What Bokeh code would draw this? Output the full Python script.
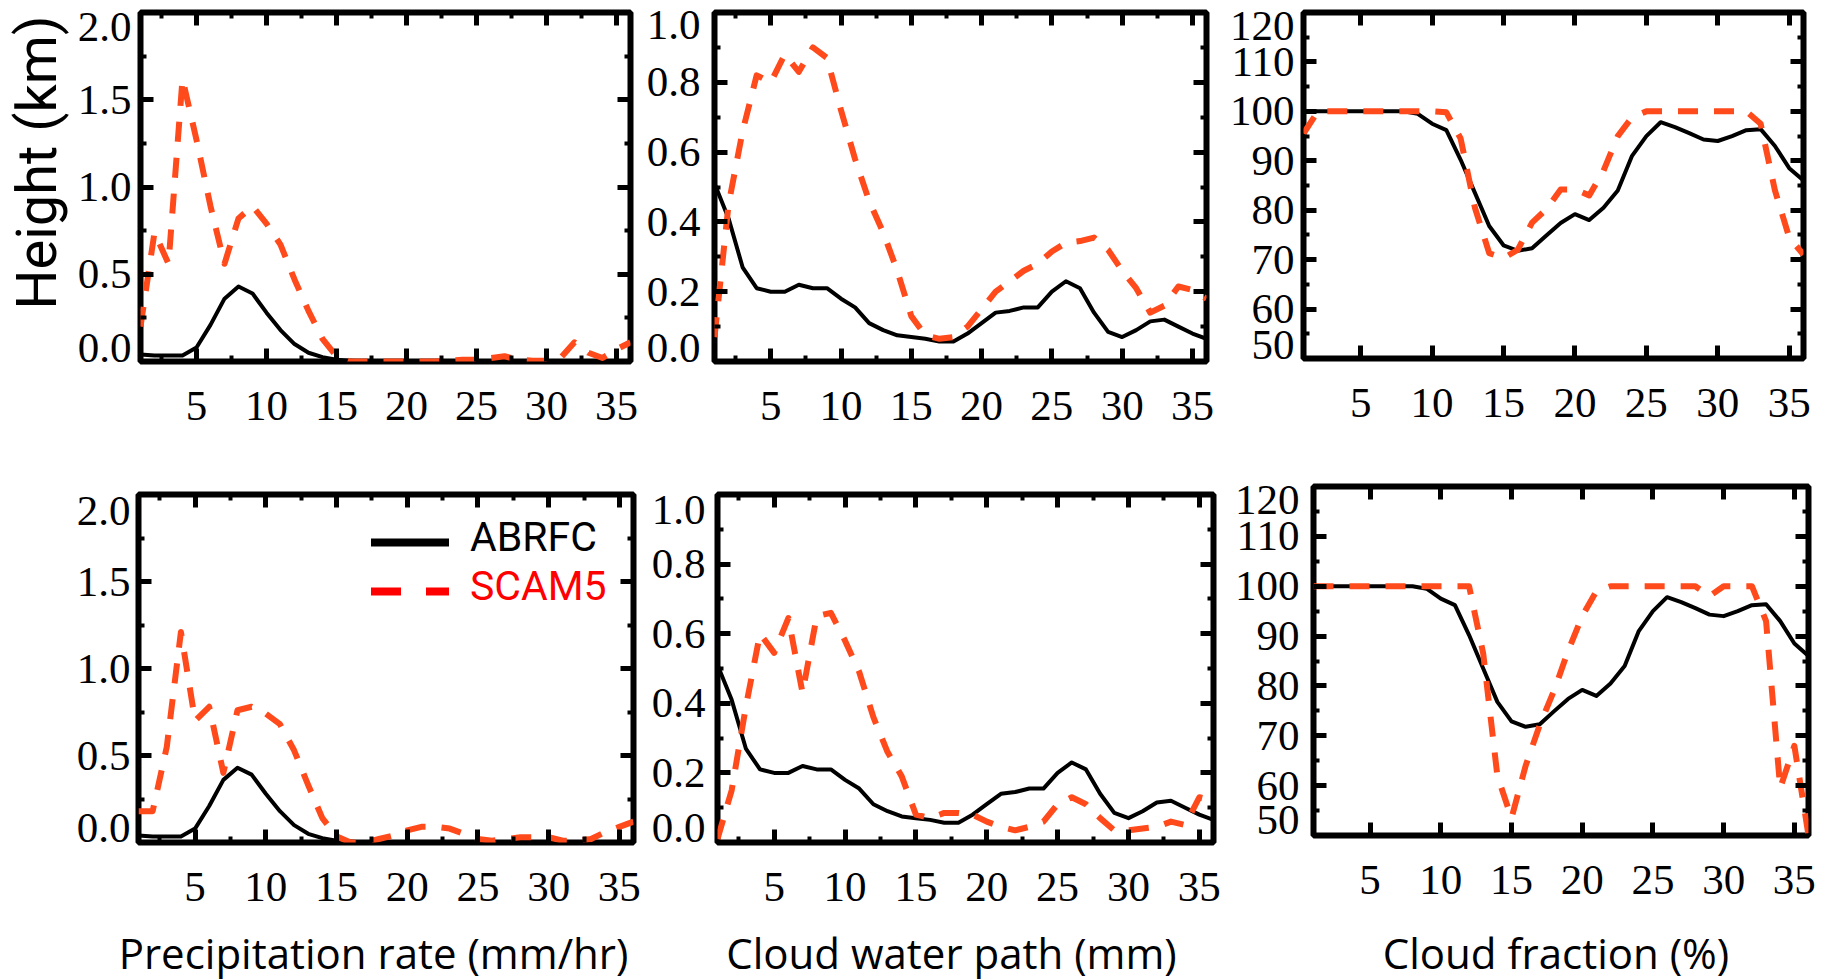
from bokeh.plotting import figure
from bokeh.layouts import row, column
from bokeh.models import (Range1d, LinearAxis, FixedTicker, PrintfTickFormatter,
                          CustomJSTickFormatter, Label, Title, Arrow, ColumnDataSource)
from bokeh.embed import file_html
from bokeh.resources import INLINE

# ---------------- data ----------------
hours = [1, 2, 3, 4, 5, 6, 7, 8, 9, 10, 11, 12, 13, 14, 15, 16, 17, 18,
         19, 20, 21, 22, 23, 24, 25, 26, 27, 28, 29, 30, 31, 32, 33, 34, 35, 36]

abrfc_precip = [0.04, 0.035, 0.035, 0.035, 0.08, 0.21, 0.36, 0.43, 0.39, 0.28, 0.18, 0.10,
                0.05, 0.025, 0.01, 0.005, 0.0, 0.0, 0.0, 0.0, 0.0, 0.0, 0.0, 0.0,
                0.0, 0.0, 0.0, 0.0, 0.0, 0.0, 0.0, 0.0, 0.0, 0.0, 0.0, 0.0]
scam5_precip_top = [0.20, 0.74, 0.56, 1.62, 1.27, 0.89, 0.56, 0.82, 0.89, 0.79, 0.67, 0.47,
                    0.29, 0.13, 0.03, 0.0, 0.0, 0.0, 0.0, 0.0, 0.0, 0.0, 0.005, 0.01,
                    0.01, 0.02, 0.03, 0.01, 0.005, 0.005, 0.02, 0.11, 0.05, 0.02, 0.07, 0.11]
scam5_precip_bottom = [0.18, 0.18, 0.55, 1.21, 0.70, 0.78, 0.40, 0.76, 0.78, 0.74, 0.68, 0.53,
                       0.33, 0.14, 0.035, 0.0, 0.0, 0.02, 0.04, 0.07, 0.09, 0.09, 0.08, 0.05,
                       0.02, 0.01, 0.02, 0.03, 0.03, 0.03, 0.01, 0.01, 0.02, 0.06, 0.09, 0.12]

abrfc_cwp = [0.51, 0.41, 0.27, 0.21, 0.20, 0.20, 0.22, 0.21, 0.21, 0.18, 0.155, 0.11,
             0.09, 0.075, 0.07, 0.065, 0.057, 0.057, 0.08, 0.11, 0.14, 0.145, 0.155, 0.155,
             0.20, 0.23, 0.21, 0.14, 0.085, 0.07, 0.09, 0.115, 0.12, 0.10, 0.08, 0.065]
scam5_cwp_top = [0.07, 0.45, 0.66, 0.82, 0.80, 0.88, 0.83, 0.90, 0.87, 0.72, 0.58, 0.46,
                 0.37, 0.26, 0.13, 0.075, 0.065, 0.07, 0.10, 0.15, 0.20, 0.23, 0.26, 0.28,
                 0.315, 0.34, 0.345, 0.355, 0.32, 0.26, 0.21, 0.14, 0.16, 0.215, 0.205, 0.18]
scam5_cwp_bottom = [0.01, 0.15, 0.39, 0.60, 0.545, 0.645, 0.43, 0.65, 0.66, 0.58, 0.49, 0.36,
                    0.26, 0.19, 0.08, 0.07, 0.085, 0.085, 0.08, 0.06, 0.045, 0.035, 0.045, 0.06,
                    0.11, 0.13, 0.11, 0.07, 0.035, 0.035, 0.04, 0.045, 0.06, 0.05, 0.13, 0.12]

abrfc_cf = [100, 100, 100, 100, 100, 100, 100, 100, 99.5, 97.5, 96.2, 90.2,
            83.5, 76.8, 72.9, 71.8, 72.3, 74.9, 77.4, 79.2, 78.0, 80.5, 84.0, 91.0,
            95.0, 97.8, 96.8, 95.6, 94.3, 94.0, 95.0, 96.2, 96.4, 93.0, 88.5, 86.0]
scam5_cf_top = [95.5, 100, 100, 100, 100, 100, 100, 100, 100, 100, 99.8, 94.5,
                80.5, 71.3, 70.3, 72.0, 77.5, 80.2, 84.2, 84.2, 83.0, 88.0, 95.0, 98.8,
                100, 100, 100, 100, 100, 100, 100, 100, 97.5, 84.0, 74.5, 71.0]
scam5_cf_bottom = [100, 100, 100, 100, 100, 100, 100, 100, 100, 100, 100, 100,
                   86.5, 62.0, 53.5, 64.0, 72.2, 79.0, 87.0, 94.0, 99.0, 100, 100, 100,
                   100, 100, 100, 100, 98.0, 100, 100, 100, 93.0, 59.5, 68.0, 50.0]

x_tick_values = [5, 10, 15, 20, 25, 30, 35]
x_minor_values = [2.5, 7.5, 12.5, 17.5, 22.5, 27.5, 32.5]
x_titles = ["Precipitation rate (mm/hr)", "Cloud water path (mm)", "Cloud fraction (%)"]
y_title = "Height (km)"
legend_labels = ["ABRFC", "SCAM5"]

precip_range = (0, 2)
precip_major = [0.5, 1.0, 1.5]
precip_minor = [0.25, 0.75, 1.25, 1.75]
cwp_range = (0, 1)
cwp_major = [0.2, 0.4, 0.6, 0.8]
cwp_minor = [0.1, 0.3, 0.5, 0.7, 0.9]
cf_range = (50, 120)
cf_major = [60, 70, 80, 90, 100, 110]
cf_minor = [55, 65, 75, 85, 95, 105, 115]

# ---------------- style ----------------
SERIF = "Liberation Serif"
SANS = "Open Sans"
RED = "#FF4A1C"
TICK_FS = "43px"

LOOKUP = """
let best = ''; let d = 1e9;
for (let i = 0; i < pos.length; i++) {
  const dd = Math.abs(pos[i] - tick);
  if (dd < d) { d = dd; best = labs[i]; }
}
return d < 0.5 ? best : '';
"""


def style_axis(ax):
    ax.axis_line_color = None
    ax.major_tick_in = 13
    ax.major_tick_out = 0
    ax.minor_tick_in = 6
    ax.minor_tick_out = 0
    ax.major_tick_line_width = 5
    ax.minor_tick_line_width = 4
    ax.major_tick_line_color = "black"
    ax.minor_tick_line_color = "black"


def no_ticks(ax):
    ax.axis_line_color = None
    ax.major_tick_line_color = None
    ax.minor_tick_line_color = None
    ax.major_tick_in = 0
    ax.major_tick_out = 0
    ax.minor_tick_in = 0
    ax.minor_tick_out = 0


def blank_axis(ax):
    ax.formatter = CustomJSTickFormatter(code="return ''")
    ax.major_label_text_font_size = "1px"
    ax.major_label_standoff = 0


def make_panel(obs, mod, yr, ymaj, ymin, fmt, xminor, fw, fh, bl, br, bt, bb, ystand,
               edge_top, edge_bot):
    p = figure(frame_width=fw, frame_height=fh,
               min_border_left=bl, min_border_right=br,
               min_border_top=bt, min_border_bottom=bb,
               x_range=Range1d(1, 36), y_range=Range1d(*yr),
               x_axis_type=None, y_axis_type=None,
               output_backend="svg", toolbar_location=None)
    p.background_fill_color = "white"
    p.border_fill_color = "white"
    p.outline_line_color = "black"
    p.outline_line_width = 6
    p.extra_y_ranges = {"lab": Range1d(0, fh)}
    p.extra_x_ranges = {"tpx": Range1d(0, fw)}

    xt = FixedTicker(ticks=x_tick_values, minor_ticks=x_minor_values if xminor else [])
    yt = FixedTicker(ticks=ymaj, minor_ticks=ymin)

    bx = LinearAxis(ticker=xt, formatter=PrintfTickFormatter(format="%d"))
    style_axis(bx)
    bx.major_label_text_font = SERIF
    bx.major_label_text_font_size = TICK_FS
    bx.major_label_text_color = "black"
    bx.major_label_standoff = 30
    p.add_layout(bx, "below")

    tx = LinearAxis(ticker=xt)
    style_axis(tx)
    blank_axis(tx)
    p.add_layout(tx, "above")

    # tick marks on the left (no labels)
    ly = LinearAxis(ticker=yt)
    style_axis(ly)
    blank_axis(ly)
    p.add_layout(ly, "left")

    # labels on the left; the end labels sit slightly inside the frame as in the original
    y0, y1 = yr
    pos = [edge_bot] + [(t - y0) / (y1 - y0) * fh for t in ymaj] + [fh - edge_top]
    labs = [fmt % y0] + [fmt % t for t in ymaj] + [fmt % y1]
    la = LinearAxis(y_range_name="lab", ticker=FixedTicker(ticks=pos, minor_ticks=[]),
                    formatter=CustomJSTickFormatter(args=dict(pos=pos, labs=labs), code=LOOKUP))
    no_ticks(la)
    la.major_label_text_font = SERIF
    la.major_label_text_font_size = TICK_FS
    la.major_label_text_color = "black"
    la.major_label_standoff = ystand
    p.add_layout(la, "left")

    ry = LinearAxis(ticker=yt)
    style_axis(ry)
    blank_axis(ry)
    p.add_layout(ry, "right")

    src = ColumnDataSource(dict(x=hours, obs=obs, mod=mod))
    p.line("x", "obs", source=src, line_color="black", line_width=4, line_join="round")
    p.line("x", "mod", source=src, line_color=RED, line_width=6, line_dash="20 16",
           line_join="round")
    return p


def add_x_title(p, text, cx, standoff):
    ax = LinearAxis(x_range_name="tpx", ticker=FixedTicker(ticks=[cx], minor_ticks=[]),
                    formatter=CustomJSTickFormatter(args=dict(t=text), code="return t"))
    no_ticks(ax)
    ax.major_label_text_font = SANS
    ax.major_label_text_font_size = "42px"
    ax.major_label_text_color = "black"
    ax.major_label_standoff = standoff
    p.add_layout(ax, "below")


p1 = make_panel(abrfc_precip, scam5_precip_top, precip_range, precip_major, precip_minor,
                "%.1f", True, 490, 349, 139, 10, 12, 110, 9, 14, 14)
p2 = make_panel(abrfc_cwp, scam5_cwp_top, cwp_range, cwp_major, cwp_minor,
                "%.1f", True, 492, 349, 74, 12, 12, 110, 14, 12, 14)
p3 = make_panel(abrfc_cf, scam5_cf_top, cf_range, cf_major, cf_minor,
                "%d", False, 500, 346, 85, 22, 12, 113, 9, 13, 14)
p4 = make_panel(abrfc_precip, scam5_precip_bottom, precip_range, precip_major, precip_minor,
                "%.1f", True, 495, 348, 138, 10, 23, 136, 8, 16, 15)
p5 = make_panel(abrfc_cwp, scam5_cwp_bottom, cwp_range, cwp_major, cwp_minor,
                "%.1f", True, 496, 348, 74, 12, 23, 136, 12, 15, 15)
p6 = make_panel(abrfc_cf, scam5_cf_bottom, cf_range, cf_major, cf_minor,
                "%d", False, 495, 349, 88, 16, 15, 143, 14, 13, 16)

# y title (left of the first panel)
p1.add_layout(Title(text=y_title, align="left", offset=52, vertical_align="top", standoff=6,
                    text_font="Roboto", text_font_size="56px", text_font_style="normal",
                    text_color="black"), "left")

# x titles under the bottom row (as single-tick label axes, so they can be placed freely)
add_x_title(p4, x_titles[0], 235, 20)
add_x_title(p5, x_titles[1], 234, 20)
add_x_title(p6, x_titles[2], 242.5, 27)

# legend drawn as annotations in screen units of the lower-left panel
p4.add_layout(Arrow(start=None, end=None, x_start=232.5, y_start=300, x_end=310.5, y_end=300,
                    start_units="screen", end_units="screen",
                    line_color="black", line_width=8))
p4.add_layout(Arrow(start=None, end=None, x_start=232.5, y_start=251, x_end=310.5, y_end=251,
                    start_units="screen", end_units="screen",
                    line_color="#FF0000", line_width=8, line_dash="30 25"))
p4.add_layout(Label(x=331.5, y=306, x_units="screen", y_units="screen", text=legend_labels[0],
                    text_align="left", text_baseline="middle", text_font="Roboto",
                    text_font_size="41px", text_color="black"))
p4.add_layout(Label(x=331.5, y=257, x_units="screen", y_units="screen", text=legend_labels[1],
                    text_align="left", text_baseline="middle", text_font="Roboto",
                    text_font_size="41px", text_color="#FF0000"))

# each plot in its own column so that the frames keep their own vertical offsets
layout = column(row(p1, p2, p3), row(column(p4), column(p5), column(p6)))

open("out.html", "w").write(file_html(layout, INLINE))
